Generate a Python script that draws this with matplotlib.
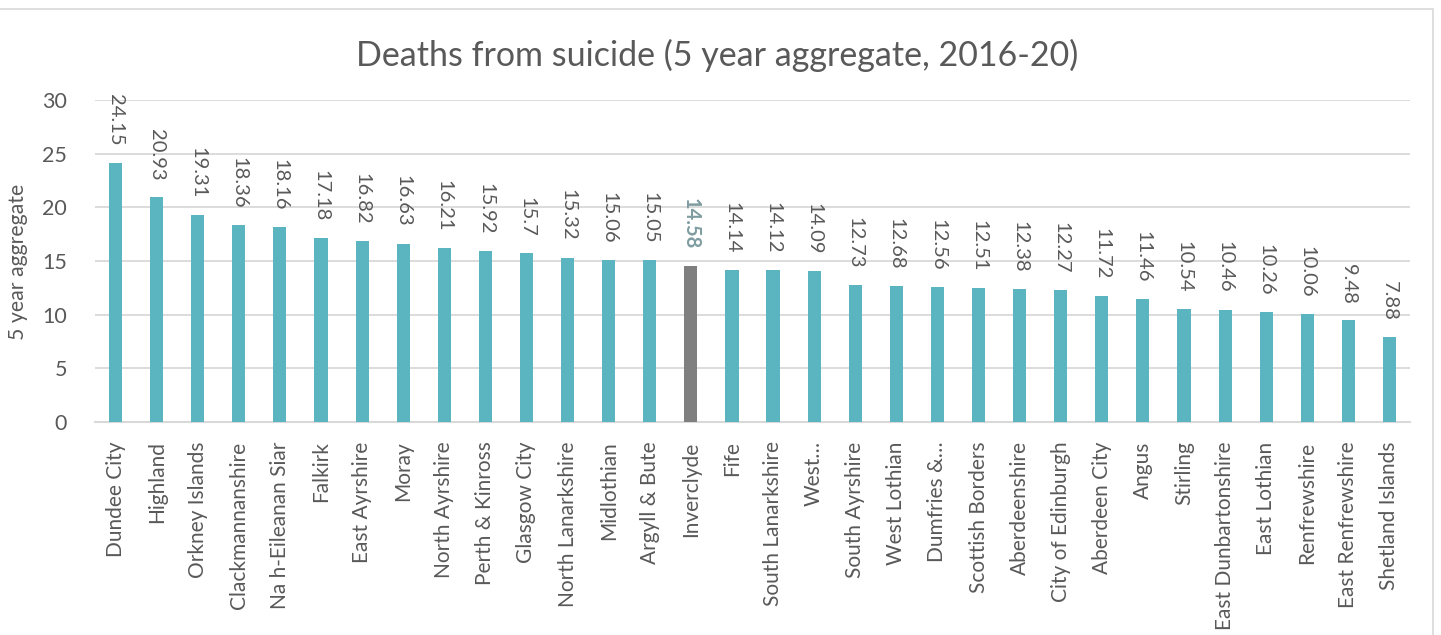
import matplotlib
matplotlib.use("Agg")
import matplotlib.pyplot as plt
from matplotlib.patches import Rectangle

categories = ["Dundee City", "Highland", "Orkney Islands", "Clackmannanshire",
              "Na h-Eileanan Siar", "Falkirk", "East Ayrshire", "Moray",
              "North Ayrshire", "Perth & Kinross", "Glasgow City", "North Lanarkshire",
              "Midlothian", "Argyll & Bute", "Inverclyde", "Fife", "South Lanarkshire",
              "West\u2026", "South Ayrshire", "West Lothian", "Dumfries &\u2026",
              "Scottish Borders", "Aberdeenshire", "City of Edinburgh", "Aberdeen City",
              "Angus", "Stirling", "East Dunbartonshire", "East Lothian", "Renfrewshire",
              "East Renfrewshire", "Shetland Islands"]
values = [24.15, 20.93, 19.31, 18.36, 18.16, 17.18, 16.82, 16.63, 16.21, 15.92,
          15.7, 15.32, 15.06, 15.05, 14.58, 14.14, 14.12, 14.09, 12.73, 12.68,
          12.56, 12.51, 12.38, 12.27, 11.72, 11.46, 10.54, 10.46, 10.26, 10.06,
          9.48, 7.88]
value_labels = ["24.15", "20.93", "19.31", "18.36", "18.16", "17.18", "16.82", "16.63",
                "16.21", "15.92", "15.7", "15.32", "15.06", "15.05", "14.58", "14.14",
                "14.12", "14.09", "12.73", "12.68", "12.56", "12.51", "12.38", "12.27",
                "11.72", "11.46", "10.54", "10.46", "10.26", "10.06", "9.48", "7.88"]
highlight = "Inverclyde"
yticks = [0, 5, 10, 15, 20, 25, 30]

plt.rcParams['font.family'] = ['Lato', 'DejaVu Sans']
TXT = '#595959'
TEAL = '#5BB5C0'
GREY = '#7F7F7F'
HL_TXT = '#7F9CA0'

fig = plt.figure(figsize=(14.41, 6.35), dpi=100)
ax = fig.add_axes([95/1441, 1-422/635, (1410-95)/1441, (422-100)/635])

x = list(range(len(categories)))
colors = [GREY if c == highlight else TEAL for c in categories]
ax.bar(x, values, width=0.32, color=colors, zorder=3)

for xi, v, lab, c in zip(x, values, value_labels, categories):
    hl = c == highlight
    ax.annotate(lab, (xi, v), xytext=(0, 12), textcoords='offset points',
                rotation=-90, ha='center', va='bottom', fontsize=14.5,
                color=HL_TXT if hl else TXT, fontweight='bold' if hl else 'normal')

ax.set_xlim(-0.5, len(categories) - 0.5)
ax.set_ylim(0, 30)
ax.set_yticks(yticks)
ax.set_xticks(x)
ax.set_xticklabels(categories, rotation=90, va='top', ha='center', fontsize=15, color=TXT)
ax.tick_params(axis='x', length=0, pad=14)
ax.tick_params(axis='y', length=0, pad=20, labelsize=15.5, labelcolor=TXT)
ax.grid(axis='y', color='#D9D9D9', linewidth=1.3, zorder=0)
for s in ['top', 'right', 'left']:
    ax.spines[s].set_visible(False)
ax.spines['bottom'].set_color('#D9D9D9')
ax.spines['bottom'].set_linewidth(1.5)

fig.text(18/1441, 1-262/635, "5 year aggregate", rotation=90, ha='center', va='center',
         fontsize=15.3, color=TXT)

fig.text(717/1441, 1-55/635, "Deaths from suicide (5 year aggregate, 2016-20)",
         ha='center', va='center', fontsize=24.5, color=TXT)

fig.patches.append(Rectangle((-0.01, -0.05), (1433/1441) + 0.01, (1-9/635) + 0.05,
                             transform=fig.transFigure, fill=False,
                             edgecolor='#D9D9D9', linewidth=1.2))

fig.savefig("out.png", dpi=100)
